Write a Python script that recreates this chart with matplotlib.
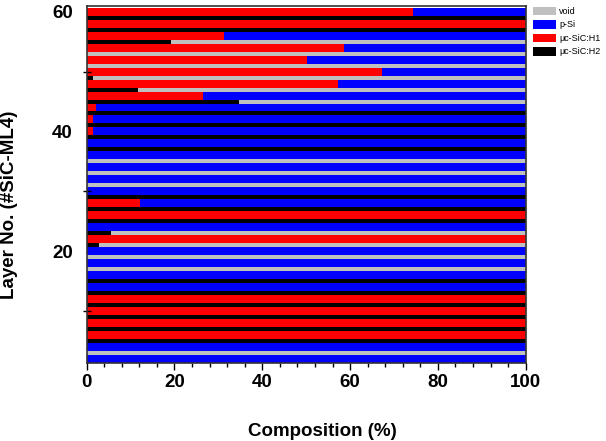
import matplotlib
matplotlib.use("Agg")
import matplotlib.pyplot as plt
from matplotlib.patches import Patch
import numpy as np

plt.rcParams['font.family'] = ['Liberation Sans', 'DejaVu Sans']
plt.rcParams['font.weight'] = 'bold'

# even layers (2, 4, ..., 60): thick layers, uc-SiC:H1 + p-Si
even_layers = np.arange(2, 61, 2)
h1_even = [0, 0, 100, 100, 100, 100, 0, 0, 0, 0,
           100, 0, 100, 12.1, 0, 0, 0, 0, 0, 1.4,
           1.5, 2.1, 26.5, 57.2, 67.2, 50.1, 58.5, 31.3, 100, 74.3]
psi_even = [100, 100, 0, 0, 0, 0, 100, 100, 100, 100,
            0, 100, 0, 87.9, 100, 100, 100, 100, 100, 98.6,
            98.5, 97.9, 73.5, 42.8, 32.8, 49.9, 41.5, 68.7, 0, 25.7]

# odd layers (1, 3, ..., 59): thin layers, uc-SiC:H2 + void
odd_layers = np.arange(1, 60, 2)
h2_odd = [0, 0, 100, 100, 100, 100, 100, 100, 0, 0,
          2.8, 5.5, 100, 100, 100, 0, 0, 0, 100, 100,
          100, 100, 34.8, 11.7, 1.5, 0, 0, 19.3, 100, 100]
void_odd = [100, 100, 0, 0, 0, 0, 0, 0, 100, 100,
            97.2, 94.5, 0, 0, 0, 100, 100, 100, 0, 0,
            0, 0, 65.2, 88.3, 98.5, 100, 100, 80.7, 0, 0]

labels = ['void', 'p-Si', '\u03bcc-SiC:H1', '\u03bcc-SiC:H2']
colors = ['#C0C0C0', '#0000FF', '#FF0000', '#000000']

fig = plt.figure(figsize=(6.06, 4.41), dpi=100)
ax = fig.add_axes([0.143, 0.176, 0.7245, 0.811])

# thin layers first, thick layers drawn on top and overlap them
ax.barh(odd_layers, h2_odd, height=1.33, color='#000000', linewidth=0)
ax.barh(odd_layers, void_odd, left=h2_odd, height=1.33, color='#C0C0C0',
        linewidth=0)
ax.barh(even_layers, h1_even, height=1.33, color='#FF0000', linewidth=0)
ax.barh(even_layers, psi_even, left=h1_even, height=1.33, color='#0000FF',
        linewidth=0)

ax.set_xlim(0, 100)
ax.set_ylim(1.25, 61)

ax.set_xticks(np.arange(0, 101, 20))
ax.set_xticks(np.arange(0, 101, 4), minor=True)
ax.set_yticks([20, 40, 60])
ax.set_yticks([10, 30, 50], minor=True)
ax.tick_params(axis='x', which='major', direction='out', length=5, width=1,
               labelsize=13.5, pad=3)
ax.tick_params(axis='x', which='minor', direction='out', length=3, width=1)
ax.tick_params(axis='y', which='major', length=0, labelsize=13.5, pad=10)
ax.tick_params(axis='y', which='minor', direction='inout', length=6, width=1)
for lab in ax.get_xticklabels() + ax.get_yticklabels():
    lab.set_fontweight('bold')
for s in ax.spines.values():
    s.set_linewidth(1.2)
    s.set_color('#333333')

ax.set_xlabel('Composition (%)', fontsize=13.5, fontweight='bold')
ax.set_ylabel('Layer No. (#SiC-ML4)', fontsize=13.5, fontweight='bold')
ax.xaxis.set_label_coords(0.538, -0.166)
ax.yaxis.set_label_coords(-0.156, 0.443)

handles = [Patch(facecolor=c, edgecolor='none') for c in colors]
fig.legend(handles, labels, loc='upper left', bbox_to_anchor=(0.879, 0.985),
           frameon=False, prop={'size': 6.5, 'weight': 'normal'},
           handlelength=2.6, handleheight=1.1, labelspacing=0.45,
           handletextpad=0.35, borderpad=0, borderaxespad=0)

fig.savefig('out.png', dpi=100)
